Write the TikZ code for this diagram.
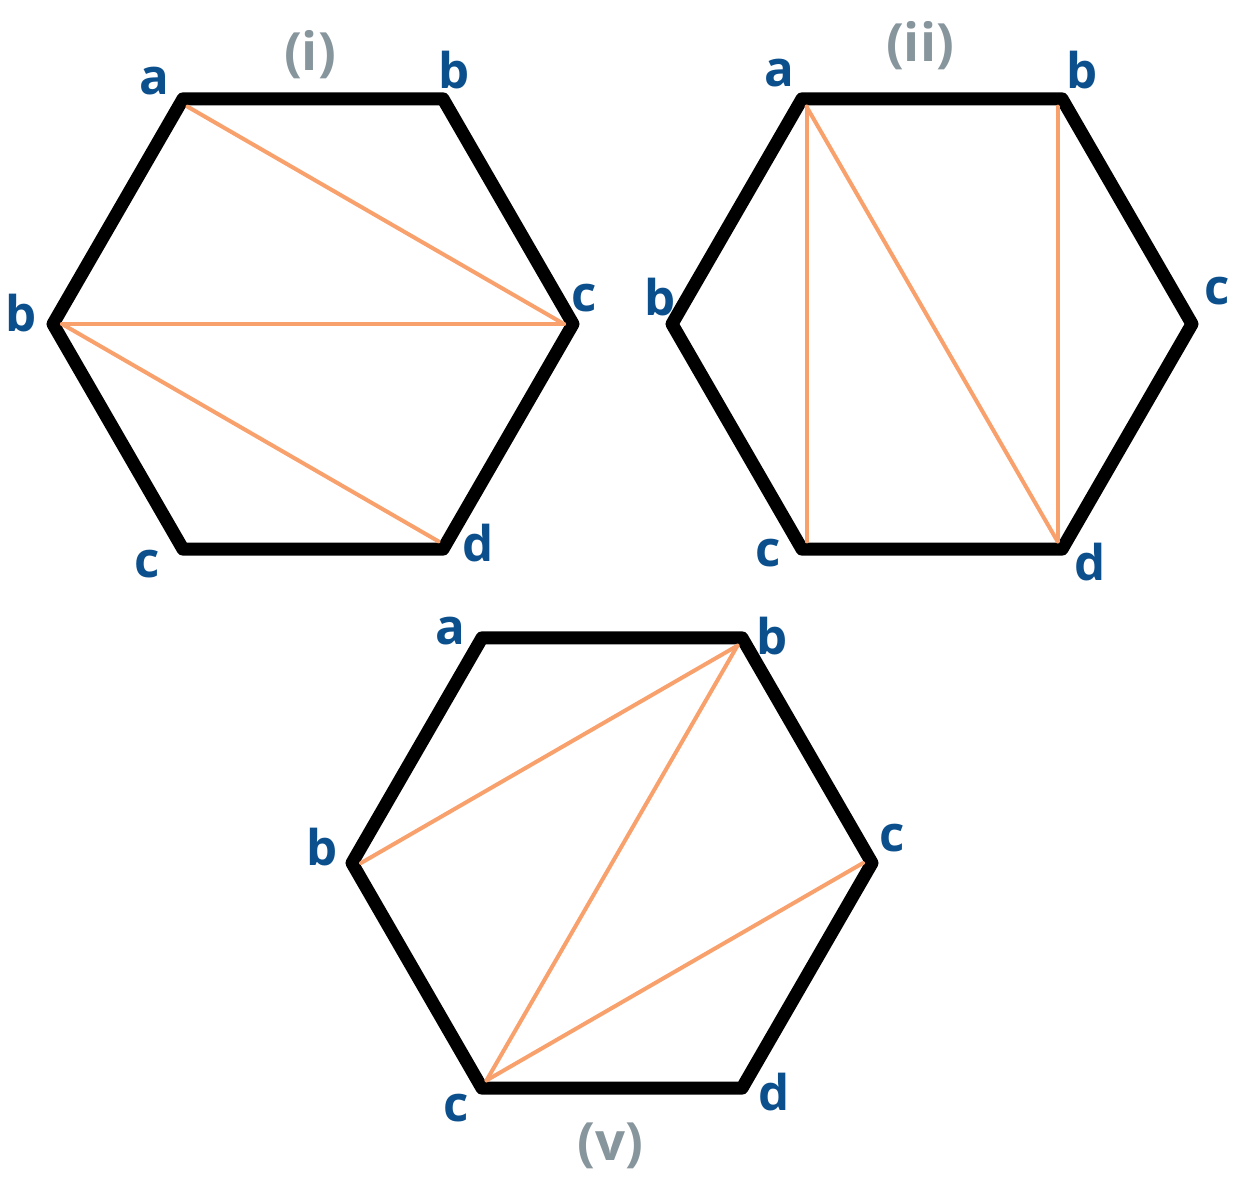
\documentclass[tikz,border=0pt]{standalone}
\usepackage{fontspec}
\setmainfont{Open Sans}
\definecolor{labelblue}{HTML}{0B4F8C}
\definecolor{capgray}{HTML}{87959C}
\definecolor{diagorange}{HTML}{F9A16C}
\tikzset{hexedge/.style = {black, line width = 0.26cm, line join = round},
  diag/.style = {diagorange, line width = 0.08cm, line cap = round},
  vlabel/.style = {labelblue, inner sep = 0pt, font = \fontsize{28}{30}\selectfont\bfseries},
  caption/.style = {capgray, inner sep = 0pt, font = \fontsize{30}{32}\selectfont\bfseries}}

\begin{document}
\begin{tikzpicture} [x = 0.02cm, y = -0.02cm]
\useasboundingbox (0, 0) rectangle (1248, 1181);
\foreach \hx/\hy/\h in {313/324/1, 932/324/2, 612/863/3} {
  \foreach \ang/\v in {0/r, 60/tr, 120/tl, 180/l, 240/bl, 300/br} {
    \coordinate (h\h\v) at ({\hx + 260*cos(\ang)}, {\hy - 260*sin(\ang)});
    \coordinate (h\h\v i) at ({\hx + 251*cos(\ang)}, {\hy - 251*sin(\ang)});
  }
  \draw[hexedge] (h\h r) -- (h\h tr) -- (h\h tl) -- (h\h l) -- (h\h bl) -- (h\h br) -- cycle;
}
\draw[diag] (h1tli) -- (h1ri);
\draw[diag] (h1li) -- (h1ri);
\draw[diag] (h1li) -- (h1bri);
\draw[diag] (h2tli) -- (h2bli);
\draw[diag] (h2tli) -- (h2bri);
\draw[diag] (h2tri) -- (h2bri);
\draw[diag] (h3tri) -- (h3li);
\draw[diag] (h3tri) -- (h3bli);
\draw[diag] (h3bli) -- (h3ri);
\node[caption] (cap1) at (310, 55){(i)};
\node[vlabel] (l1a) at (154, 81){a};
\node[vlabel] (l1b) at (454, 70){b};
\node[vlabel] (l1bl) at (21, 313){b};
\node[vlabel] (l1c) at (584, 298){c};
\node[vlabel] (l1cb) at (147, 564){c};
\node[vlabel] (l1d) at (478, 543){d};
\node[caption] (cap2) at (920, 46){(ii)};
\node[vlabel] (l2a) at (779, 73){a};
\node[vlabel] (l2b) at (1082, 70){b};
\node[vlabel] (l2bl) at (660, 297){b};
\node[vlabel] (l2c) at (1217, 291){c};
\node[vlabel] (l2cb) at (768, 553){c};
\node[vlabel] (l2d) at (1090, 562){d};
\node[vlabel] (l3a) at (450, 631){a};
\node[vlabel] (l3b) at (772, 636){b};
\node[vlabel] (l3bl) at (322, 847){b};
\node[vlabel] (l3c) at (892, 838){c};
\node[vlabel] (l3cb) at (456, 1108){c};
\node[vlabel] (l3d) at (774, 1092){d};
\node[caption] (cap3) at (610, 1146){(v)};
\end{tikzpicture}
\end{document}
